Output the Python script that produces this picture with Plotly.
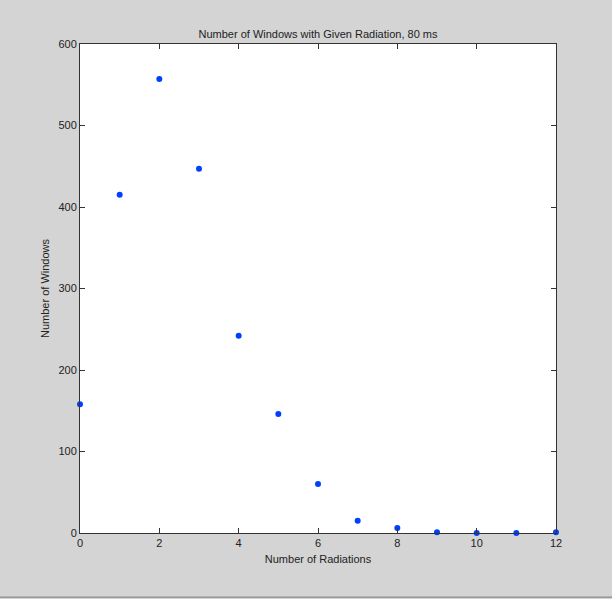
import plotly.graph_objects as go

# number of radiations per window and count of windows
radiations = [0, 1, 2, 3, 4, 5, 6, 7, 8, 9, 10, 11, 12]
windows = [158, 415, 557, 447, 242, 146, 60, 15, 6, 1, 0, 0, 1]

x_ticks = [0, 2, 4, 6, 8, 10, 12]
y_ticks = [0, 100, 200, 300, 400, 500, 600]

trace = go.Scatter(
    x=radiations,
    y=windows,
    mode='markers',
    marker=dict(color='rgb(0,64,255)', size=6),
    cliponaxis=False,
    showlegend=False,
)

axis_style = dict(
    showgrid=False,
    zeroline=False,
    showline=True,
    linecolor='#333333',
    linewidth=1,
    mirror='ticks',
    ticks='inside',
    ticklen=5,
    tickcolor='#333333',
    tickfont=dict(family='Liberation Sans, Arial', size=11, color='#222222'),
)

layout = go.Layout(
    width=612,
    height=599,
    paper_bgcolor='#d4d4d4',
    plot_bgcolor='white',
    margin=dict(l=80, r=56, t=44, b=66),
    title=dict(
        text='Number of Windows with Given Radiation, 80 ms',
        x=318 / 612,
        xanchor='center',
        y=1 - 34 / 599,
        yanchor='middle',
        font=dict(family='Liberation Sans, Arial', size=11, color='#222222'),
    ),
    xaxis=dict(
        axis_style,
        range=[0, 12],
        tickvals=x_ticks,
        title=dict(text='Number of Radiations', standoff=7,
                   font=dict(family='Liberation Sans, Arial', size=11, color='#222222')),
    ),
    yaxis=dict(
        axis_style,
        range=[0, 600],
        tickvals=y_ticks,
        title=dict(text='Number of Windows', standoff=6,
                   font=dict(family='Liberation Sans, Arial', size=11, color='#222222')),
    ),
    shapes=[
        dict(type='line', xref='paper', yref='paper', x0=-0.2, x1=1.2,
             y0=-64 / 488, y1=-64 / 488,
             line=dict(color='#777777', width=1)),
    ],
)

fig = go.Figure(data=[trace], layout=layout)
# drop the default page margin so the figure sits at the window corner
fig.write_html("out.html", config={'displayModeBar': False},
               post_script="document.body.style.margin='0';")
